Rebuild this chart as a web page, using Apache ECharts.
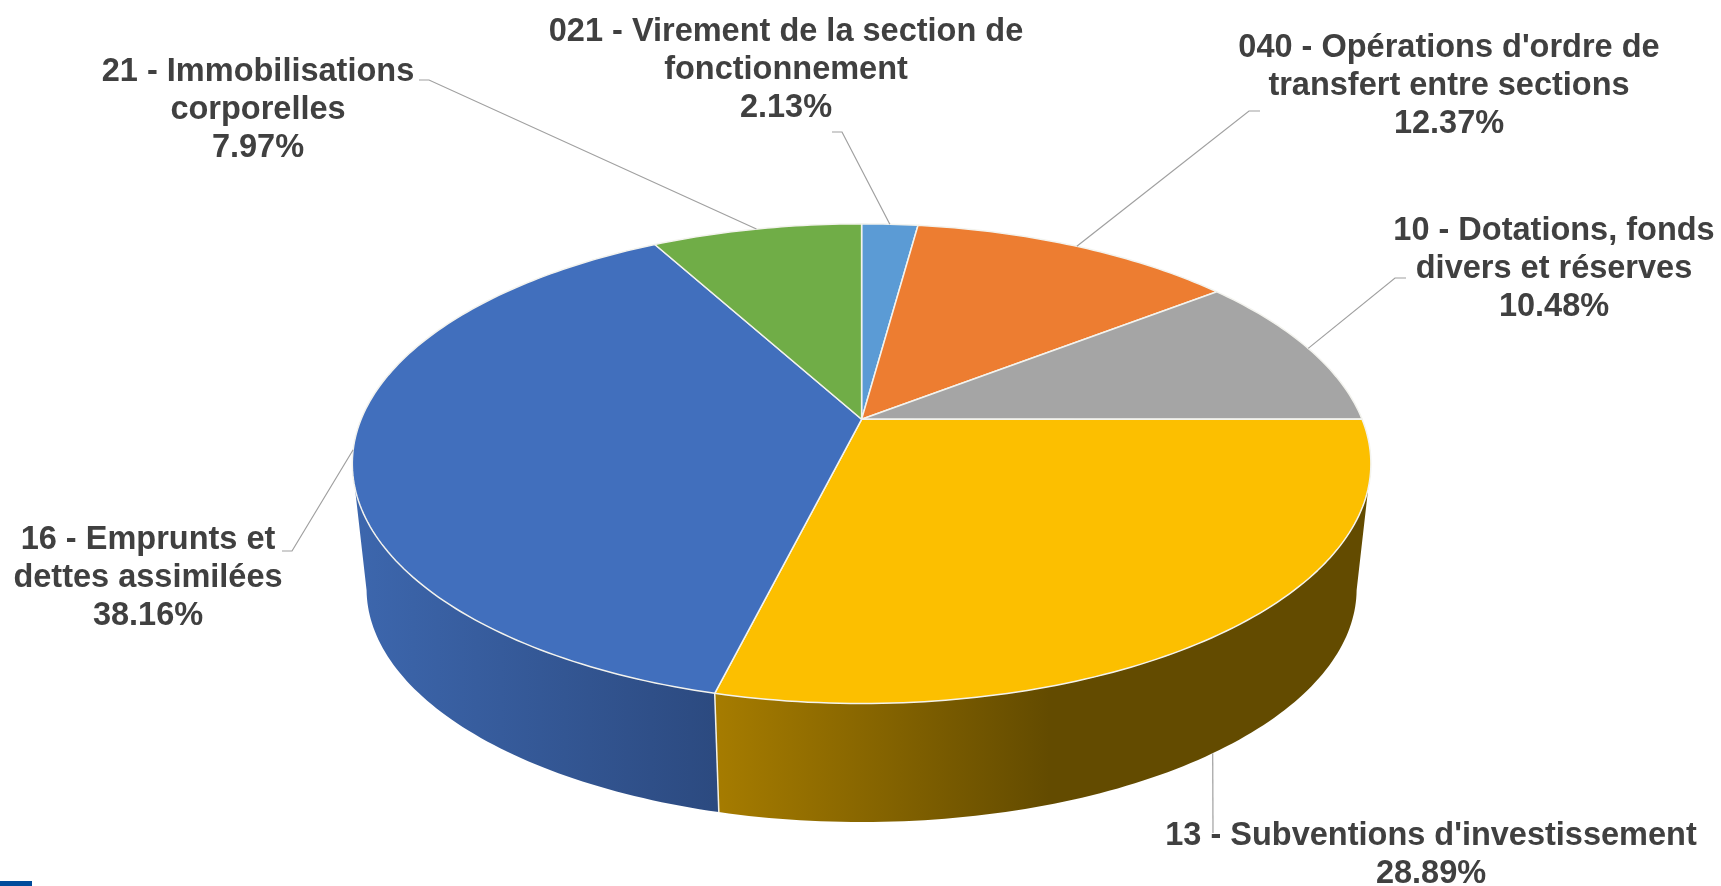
<!DOCTYPE html>
<html>
<head>
<meta charset="utf-8">
<style>
  html, body { margin: 0; padding: 0; background: #fff; }
  #chart { width: 1721px; height: 886px; }
</style>
<script src="https://cdn.jsdelivr.net/npm/echarts@6/dist/echarts.min.js"></script>
</head>
<body>
<div id="chart"></div>
<script>
// values, clockwise from 12 o'clock
const categories = [
  "021 - Virement de la section de\nfonctionnement",
  "040 - Opérations d'ordre de\ntransfert entre sections",
  "10 - Dotations, fonds\ndivers et réserves",
  "13 - Subventions d'investissement",
  "16 - Emprunts et\ndettes assimilées",
  "21 - Immobilisations\ncorporelles"
];
const shares = [2.13, 12.37, 10.48, 28.89, 38.16, 7.97];

const topColors = ['#5b9bd5', '#ed7d31', '#a5a5a5', '#fcbf00', '#416fbd', '#70ad47'];
const sideColors = {
  3: { x: 715, x2: 1050, from: '#a67c00', to: '#634b00' },
  4: { x: 350, x2: 715, from: '#3d67ae', to: '#2c4a80' }
};

// tilted disc, centre of the pie and perspective
const cx = 861.6, cy = 419.3, rx = 500.5, ry = 231.6, persp = 0.185;
// lower rim of the disc
const rimScale = 0.972, rimDrop = 126.5;
// part of the rim that faces the viewer, degrees
const frontFrom = 101, frontTo = 259;

// label centre (first line) and leader line end, per slice
const labelAt = [[786, 32], [1449, 48], [1554, 231], [1431, 836], [148, 540], [258, 72]];
const leaderEnd = [
  [[842, 132], [832, 132]],
  [[1249, 111], [1260, 111]],
  [[1395, 278], [1406, 278]],
  [[1213, 833]],
  [[292, 551], [282, 551]],
  [[429, 80], [419, 80]]
];
const lineHeight = 38;

const total = shares.reduce((a, b) => a + b, 0);

function sliceAngles(i) {
  let start = 0;
  for (let k = 0; k < i; k++) start += shares[k];
  return [start / total * 360, (start + shares[i]) / total * 360];
}

function project(deg, lower) {
  const t = deg * Math.PI / 180;
  const u = Math.sin(t), v = -Math.cos(t);
  const d = 1 - persp * v;
  const s = lower ? rimScale : 1;
  return [cx + s * rx * u / d, cy + (lower ? rimDrop : 0) + s * ry * v / d];
}

function arc(from, to, lower) {
  const pts = [];
  const n = Math.max(2, Math.ceil(Math.abs(to - from)));
  for (let j = 0; j <= n; j++) pts.push(project(from + (to - from) * j / n, lower));
  return pts;
}

function renderSide(params) {
  const i = params.dataIndex;
  const a = sliceAngles(i);
  const from = Math.max(a[0], frontFrom), to = Math.min(a[1], frontTo);
  if (to <= from || !sideColors[i]) return;
  const c = sideColors[i];
  const pts = arc(from, to, false).concat(arc(to, from, true));
  const seams = [];
  if (a[1] < frontTo) seams.push({
    type: 'polyline',
    shape: { points: [project(a[1], false), project(a[1], true)] },
    style: { stroke: '#f4f1e6', lineWidth: 1.5, fill: null },
    z2: 2
  });
  return {
    type: 'group',
    children: [{
      type: 'polygon',
      shape: { points: pts },
      style: {
        fill: {
          type: 'linear', global: true, x: c.x, y: 0, x2: c.x2, y2: 0,
          colorStops: [{ offset: 0, color: c.from }, { offset: 1, color: c.to }]
        }
      }
    }].concat(seams)
  };
}

function renderTop(params) {
  const i = params.dataIndex;
  const a = sliceAngles(i);
  return {
    type: 'polygon',
    shape: { points: [[cx, cy]].concat(arc(a[0], a[1], false)) },
    style: { fill: topColors[i], stroke: '#f3f3ee', lineWidth: 1.5, lineJoin: 'round' }
  };
}

function renderLabel(params, api) {
  const i = params.dataIndex;
  const a = sliceAngles(i);
  const mid = (a[0] + a[1]) / 2;
  // the slice at the front hangs its leader from the lower rim
  const start = project(mid, i === 3);
  const p = labelAt[i];
  return {
    type: 'group',
    children: [{
      type: 'polyline',
      shape: { points: [start].concat(leaderEnd[i]) },
      style: { stroke: '#a0a0a0', lineWidth: 1.2, fill: null }
    }, {
      type: 'text',
      x: p[0],
      // first line centre -> top of text block
      y: p[1] - lineHeight / 2,
      style: {
        text: categories[i] + '\n' + api.value(0).toFixed(2) + '%',
        fill: '#404040',
        font: 'bold 32.5px "Liberation Sans", Arial, sans-serif',
        lineHeight: lineHeight,
        align: 'center',
        verticalAlign: 'top'
      },
      z2: 5
    }]
  };
}

const chart = echarts.init(document.getElementById('chart'), null, { renderer: 'canvas' });
chart.setOption({
  animation: false,
  backgroundColor: '#ffffff',
  tooltip: { show: false },
  graphic: [{
    type: 'rect',
    shape: { x: 0, y: 881, width: 32, height: 5 },
    style: { fill: '#004b9b' }
  }],
  series: [
    { type: 'custom', coordinateSystem: 'none', silent: true, z: 1, renderItem: renderSide, data: shares },
    { type: 'custom', coordinateSystem: 'none', silent: true, z: 2, renderItem: renderTop, data: shares },
    { type: 'custom', coordinateSystem: 'none', silent: true, z: 3, renderItem: renderLabel, data: shares }
  ]
});
</script>
</body>
</html>
